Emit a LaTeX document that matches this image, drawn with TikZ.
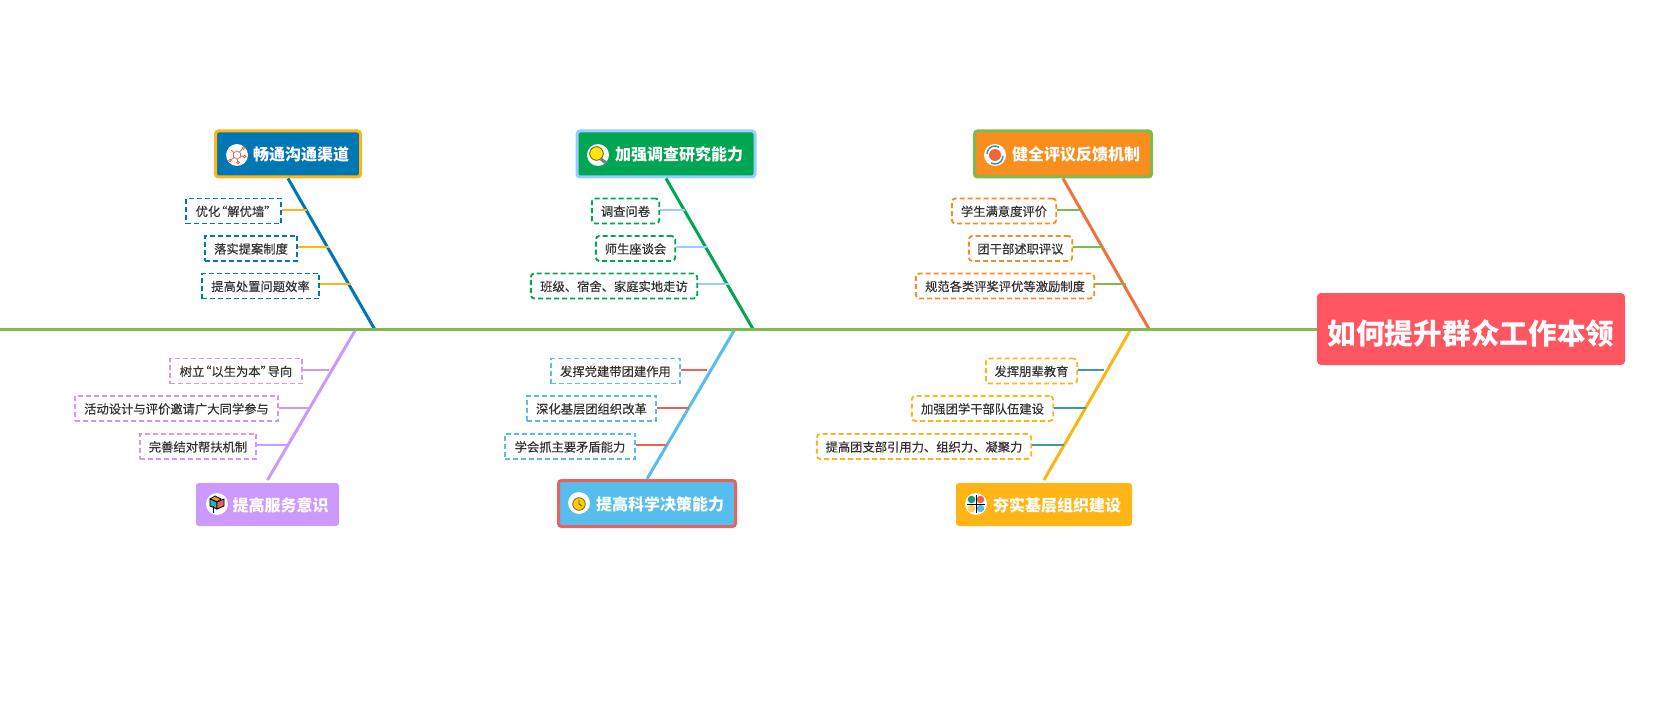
\documentclass[tikz,border=0pt]{standalone}
\usepackage{fontspec}
\setmainfont{Noto Sans CJK SC}
\newfontfamily\subfont[FakeBold=.35]{Noto Sans CJK SC}
\newcommand{\openq}{\makebox[7pt][r]{“}}
\newcommand{\closeq}{\makebox[7pt][l]{”}}
\definecolor{spinegreen}{HTML}{7FBA4C}
\definecolor{rootred}{HTML}{FF5662}
\definecolor{cblue}{HTML}{0077B5}
\definecolor{corange}{HTML}{FFB515}
\definecolor{cgreen}{HTML}{00A651}
\definecolor{cpale}{HTML}{99CCFF}
\definecolor{cdeep}{HTML}{F78E1E}
\definecolor{cflame}{HTML}{F0703F}
\definecolor{cviolet}{HTML}{CC99FF}
\definecolor{csky}{HTML}{56BDED}
\definecolor{ccoral}{HTML}{E8635A}
\definecolor{cteal}{HTML}{3A9AA8}
\definecolor{inkgrey}{HTML}{333333}
\tikzset{
  rootbox/.style={fill=rootred,rounded corners=4pt,text=white,font=\fontsize{28.7}{32}\selectfont\bfseries,
    minimum width=308pt,minimum height=72pt,inner sep=0pt,text height=31pt,text depth=0pt},
  mainbox/.style={rounded corners=3pt,text=white,font=\fontsize{16}{20}\selectfont\bfseries,
    minimum height=46pt,inner sep=0pt,line width=3pt,text height=15.5pt,text depth=1.5pt},
  flatbox/.style={mainbox,line width=0pt,minimum height=43pt,outer sep=3pt},
  subbox/.style={line width=1.9pt,dash pattern=on 5pt off 3pt,text=inkgrey,inner sep=0pt,
    font=\fontsize{12.3}{15}\subfont,minimum height=25pt,text height=11.2pt,text depth=1pt},
  roundsub/.style={subbox,rounded corners=3.5pt},
  bone/.style={line width=3pt},
  twig/.style={line width=2pt},
  icon/.style={circle,fill=white,minimum size=22pt,inner sep=0pt},
}
\begin{document}
\begin{tikzpicture}[x=1pt,y=-1pt]
\useasboundingbox (0,0) rectangle (1666,722);

\node [rootbox] (root) at (1471,329) {如何提升群众工作本领};

% top categories
\node [mainbox,draw=corange,fill=cblue,minimum width=145pt] (top1) at (288,154) {\hspace*{26pt}畅通沟通渠道};
\node [mainbox,draw=cpale,fill=cgreen,minimum width=178pt] (top2) at (666,154) {\hspace*{26pt}加强调查研究能力};
\node [mainbox,draw=spinegreen,fill=cdeep,minimum width=177pt] (top3) at (1063,154) {\hspace*{26pt}健全评议反馈机制};

% bottom categories
\node [flatbox,fill=cviolet,minimum width=143pt] (low1) at (267.5,504.5) {\hspace*{26pt}提高服务意识};
\node [mainbox,draw=ccoral,fill=csky,minimum width=177pt] (low2) at (647,503.5) {\hspace*{26pt}提高科学决策能力};
\node [flatbox,fill=corange,minimum width=176pt] (low3) at (1044,504.5) {\hspace*{26pt}夯实基层组织建设};

% where the bones meet the spine
\coordinate (tail) at (0,329);
\coordinate (jt1) at (374.5,329);
\coordinate (jt2) at (753,329);
\coordinate (jt3) at (1149,329);
\coordinate (jl1) at (356,329);
\coordinate (jl2) at (735,329);
\coordinate (jl3) at (1131,329);

\draw [bone,cblue] (top1.south) -- (jt1);
\draw [bone,cgreen] (top2.south) -- (jt2);
\draw [bone,cflame] (top3.south) -- (jt3);
\draw [bone,cviolet] (low1.north) -- (jl1);
\draw [bone,csky] (low2.north) -- (jl2);
\draw [bone,corange] (low3.north) -- (jl3);
\draw [bone,spinegreen] (tail) -- (tail -| root.west);

% first group, above
\node [subbox,draw=cblue,minimum width=95.4pt] (s11) at (233.5,211) {优化\openq 解优墙\closeq};
\node [subbox,draw=cblue,minimum width=92.4pt] (s12) at (251,248.5) {落实提案制度};
\node [subbox,draw=cblue,minimum width=117.4pt] (s13) at (260.5,286) {提高处置问题效率};
\coordinate (c11) at (307,210);
\coordinate (c12) at (329,247);
\coordinate (c13) at (351,284.5);
\draw [twig,corange] (c11 -| s11.east) -- (c11);
\draw [twig,corange] (c12 -| s12.east) -- (c12);
\draw [twig,corange] (c13 -| s13.east) -- (c13);

% second group, above
\node [roundsub,draw=cgreen,minimum width=67.4pt] (s21) at (625.5,211) {调查问卷};
\node [roundsub,draw=cgreen,minimum width=79.4pt] (s22) at (635.5,248.5) {师生座谈会};
\node [roundsub,draw=cgreen,minimum width=166.4pt] (s23) at (614,286) {班级、宿舍、家庭实地走访};
\coordinate (c21) at (685,210);
\coordinate (c22) at (707,247);
\coordinate (c23) at (729,284.5);
\draw [twig,cpale] (c21 -| s21.east) -- (c21);
\draw [twig,cpale] (c22 -| s22.east) -- (c22);
\draw [twig,cpale] (c23 -| s23.east) -- (c23);

% third group, above
\node [roundsub,draw=cdeep,minimum width=104.4pt] (s31) at (1004,211) {学生满意度评价};
\node [roundsub,draw=cdeep,minimum width=103.4pt] (s32) at (1020.5,248.5) {团干部述职评议};
\node [roundsub,draw=cdeep,minimum width=178.4pt] (s33) at (1005,286) {规范各类评奖评优等激励制度};
\coordinate (c31) at (1082,210);
\coordinate (c32) at (1104,247);
\coordinate (c33) at (1126,284.5);
\draw [twig,spinegreen] (c31 -| s31.east) -- (c31);
\draw [twig,spinegreen] (c32 -| s32.east) -- (c32);
\draw [twig,spinegreen] (c33 -| s33.east) -- (c33);

% first group, below
\node [subbox,draw=cviolet,minimum width=132.4pt] (u11) at (236,371) {树立\openq 以生为本\closeq 导向};
\node [subbox,draw=cviolet,minimum width=203.4pt] (u12) at (176.5,408.5) {活动设计与评价邀请广大同学参与};
\node [subbox,draw=cviolet,minimum width=116.4pt] (u13) at (198,446.5) {完善结对帮扶机制};
\coordinate (d11) at (329,370);
\coordinate (d12) at (310,408);
\coordinate (d13) at (288,445);
\draw [twig,cviolet] (d11 -| u11.east) -- (d11);
\draw [twig,cviolet] (d12 -| u12.east) -- (d12);
\draw [twig,cviolet] (d13 -| u13.east) -- (d13);

% second group, below
\node [subbox,draw=csky,minimum width=129.4pt] (u21) at (615.5,371) {发挥党建带团建作用};
\node [subbox,draw=csky,minimum width=129.4pt] (u22) at (591.5,408.5) {深化基层团组织改革};
\node [subbox,draw=csky,minimum width=130.4pt] (u23) at (570,446.5) {学会抓主要矛盾能力};
\coordinate (d21) at (707,370);
\coordinate (d22) at (689,408);
\coordinate (d23) at (667,445);
\draw [twig,ccoral] (d21 -| u21.east) -- (d21);
\draw [twig,ccoral] (d22 -| u22.east) -- (d22);
\draw [twig,ccoral] (d23 -| u23.east) -- (d23);

% third group, below
\node [roundsub,draw=corange,minimum width=91.4pt] (u31) at (1031.5,371) {发挥朋辈教育};
\node [roundsub,draw=corange,minimum width=141.4pt] (u32) at (982.5,408.5) {加强团学干部队伍建设};
\node [roundsub,draw=corange,minimum width=214.4pt] (u33) at (924,446.5) {提高团支部引用力、组织力、凝聚力};
\coordinate (d31) at (1104,370);
\coordinate (d32) at (1086,408);
\coordinate (d33) at (1064,445);
\draw [twig,cteal] (d31 -| u31.east) -- (d31);
\draw [twig,cteal] (d32 -| u32.east) -- (d32);
\draw [twig,cteal] (d33 -| u33.east) -- (d33);

% icons
\node [icon] (ic1) at (237,155) {};
\begin{scope}[shift={(ic1.center)},draw=ccoral!90!orange,line width=.8pt]
  \draw (-3.5,-2) -- (0,-4) -- (3.5,-2) -- (3.5,2) -- (0,4) -- (-3.5,2) -- cycle;
  \draw (2.5,-3) -- (6,-7) (3.5,1) -- (7,1.5) (0,4) -- (1,7) (-3,2.5) -- (-7,5.5) (-3,-2.5) -- (-6,-5);
  \draw (6.5,-7) circle (1.4) (7.5,1.5) circle (1.4) (1,7.5) circle (1.2) (-7,5.5) circle (1.4);
\end{scope}
\node [icon] (ic2) at (598,155) {};
\begin{scope}[shift={(ic2.center)}]
  \draw [line width=3pt,draw=cteal!50!black!70] (3,4) -- (8,8);
  \draw [fill=yellow!90!orange,draw=olive!70!black,line width=.9pt] (-1.5,-1.5) circle (6.8);
\end{scope}
\node [icon] (ic3) at (995,155) {};
\begin{scope}[shift={(ic3.center)}]
  \fill [cflame!90!red] (0,0) circle (6);
  \draw [cteal,line width=1.5pt] (-8,-1) arc (180:300:8);
  \draw [cteal,line width=1.5pt] (8,1) arc (0:120:8);
\end{scope}
\node [icon] (ic4) at (217,504) {};
\begin{scope}[shift={(ic4.center)},draw=black,line width=.8pt]
  \draw [fill=cdeep] (-7,-5) -- (-2,-8) -- (4,-5) -- (0,-2) -- cycle;
  \draw [fill=cteal!80!cyan] (-7,-5) -- (0,-2) -- (0,5) -- (-7,2) -- cycle;
  \draw [fill=ccoral] (0,-2) -- (7,-5) -- (7,2) -- (0,5) -- cycle;
  \draw (-4,2) -- (-4,9);
\end{scope}
\node [icon] (ic5) at (579,503) {};
\begin{scope}[shift={(ic5.center)}]
  \draw [fill=yellow!65!orange,draw=olive!70!black,line width=.8pt] (0,1) circle (6.3);
  \draw [black!70,line width=.8pt] (0,-3) -- (0,1) -- (3,3);
\end{scope}
\node [icon] (ic6) at (976,504) {};
\begin{scope}[shift={(ic6.center)}]
  \fill [cgreen!60!cteal] (-4.5,-4.5) circle (3.8);
  \fill [ccoral] (4.5,-4.5) circle (3.8);
  \fill [corange!70] (-4.5,4.5) circle (3.8);
  \fill [csky] (4.5,4.5) circle (3.8);
  \draw [black,line width=.8pt] (-9,0) -- (9,0) (0,-9) -- (0,9);
\end{scope}
\end{tikzpicture}
\end{document}
